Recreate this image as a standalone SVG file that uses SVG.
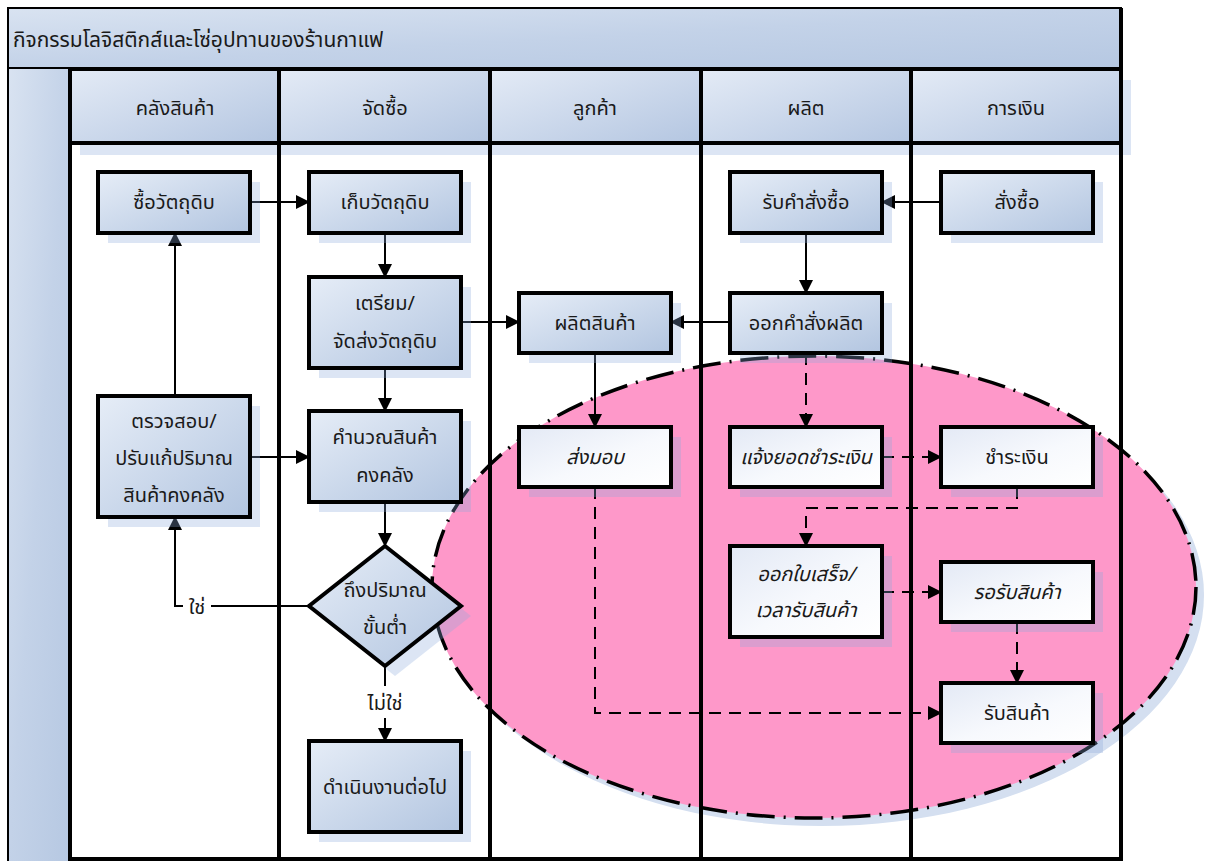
<svg xmlns="http://www.w3.org/2000/svg" width="1208" height="861" viewBox="0 0 1208 861">
<defs>
<linearGradient id="gb" x1="0" y1="0" x2="1" y2="1"><stop offset="0" stop-color="#e6edf7"/><stop offset="1" stop-color="#b2c5e0"/></linearGradient>
<linearGradient id="gw" x1="0" y1="0" x2="1" y2="1"><stop offset="0" stop-color="#e3e9f5"/><stop offset="0.55" stop-color="#f7f9fd"/><stop offset="1" stop-color="#ffffff"/></linearGradient>
<linearGradient id="gt" x1="0" y1="0" x2="1" y2="1"><stop offset="0" stop-color="#d9e3f1"/><stop offset="0.5" stop-color="#c3d2e8"/><stop offset="1" stop-color="#b6c8e2"/></linearGradient>
<linearGradient id="gh" x1="0" y1="0" x2="1" y2="1"><stop offset="0" stop-color="#e4ebf6"/><stop offset="1" stop-color="#b4c6e1"/></linearGradient>
<marker id="ar" markerUnits="userSpaceOnUse" markerWidth="14" markerHeight="14" viewBox="0 0 14 14" refX="13" refY="7" orient="auto"><path d="M0,0 L14,7 L0,14 z" fill="#000"/></marker>
<style>
.t{font-family:"Noto Sans Thai","Tahoma","Noto Sans","DejaVu Sans",sans-serif;font-size:20px;fill:#1a1a1a;text-anchor:middle}
.i{font-style:italic}
.sh{fill:#8caadc;fill-opacity:0.3}
.nb{fill:url(#gb);stroke:#000;stroke-width:4}
.nw{fill:url(#gw);stroke:#000;stroke-width:4}
.hd{fill:url(#gh);stroke:#000;stroke-width:4}
.ln{stroke:#000;stroke-width:4;fill:none}
.c{stroke:#000;stroke-width:2;fill:none;marker-end:url(#ar)}
.d{stroke-dasharray:12 8}
</style>
</defs>
<rect width="1208" height="861" fill="#fff"/>
<g id="pool">
<rect x="8" y="8" width="1113" height="60" fill="url(#gt)" stroke="#000" stroke-width="2"/>
<text class="t" x="13" y="47" style="text-anchor:start;font-size:21px">กิจกรรมโลจิสติกส์และโซ่อุปทานของร้านกาแฟ</text>
<rect x="8" y="68" width="62" height="800" fill="url(#gt)" stroke="#000" stroke-width="2"/>
</g>
<g id="headers">
<rect class="sh" x="80" y="80" width="1051" height="75"/>
<rect class="hd" x="70" y="69" width="209" height="74"/>
<rect class="hd" x="279" y="69" width="211" height="74"/>
<rect class="hd" x="490" y="69" width="211" height="74"/>
<rect class="hd" x="701" y="69" width="210" height="74"/>
<rect class="hd" x="911" y="69" width="210" height="74"/>
<text class="t" x="175" y="115">คลังสินค้า</text>
<text class="t" x="385" y="115">จัดซื้อ</text>
<text class="t" x="595" y="115">ลูกค้า</text>
<text class="t" x="806" y="115">ผลิต</text>
<text class="t" x="1016" y="115">การเงิน</text>
</g>
<g id="region">
<ellipse cx="822" cy="595" rx="382" ry="231" fill="#d4dff0"/>
<ellipse cx="814" cy="587" rx="382" ry="231" fill="#fe98c9" stroke="#000" stroke-width="3.5" stroke-dasharray="28 9 2 9"/>
</g>
<g id="lanes">
<line class="ln" x1="70" y1="143" x2="70" y2="861"/>
<line class="ln" x1="279" y1="143" x2="279" y2="861"/>
<line class="ln" x1="490" y1="143" x2="490" y2="861"/>
<line class="ln" x1="701" y1="143" x2="701" y2="861"/>
<line class="ln" x1="911" y1="143" x2="911" y2="861"/>
<line class="ln" x1="1121" y1="8" x2="1121" y2="861"/>
<line class="ln" x1="70" y1="859" x2="1121" y2="859"/>
</g>
<g id="connectors">
<line class="c" x1="250" y1="202" x2="309" y2="202"/>
<line class="c" x1="385" y1="233" x2="385" y2="277"/>
<line class="c" x1="461" y1="322" x2="519" y2="322"/>
<line class="c" x1="385" y1="368" x2="385" y2="411"/>
<line class="c" x1="175" y1="396" x2="175" y2="233"/>
<line class="c" x1="250" y1="457" x2="309" y2="457"/>
<line class="c" x1="385" y1="502" x2="385" y2="546"/>
<polyline class="c" points="309,606 175,606 175,517"/>
<line class="c" x1="385" y1="666" x2="385" y2="741"/>
<line class="c" x1="941" y1="202" x2="882" y2="202"/>
<line class="c" x1="806" y1="233" x2="806" y2="293"/>
<line class="c" x1="730" y1="322" x2="671" y2="322"/>
<line class="c" x1="595" y1="353" x2="595" y2="427"/>
<line class="c d" x1="806" y1="353" x2="806" y2="427"/>
<line class="c d" x1="882" y1="457" x2="941" y2="457"/>
<polyline class="c d" points="1017,487 1017,508 806,508 806,546"/>
<line class="c d" x1="882" y1="592" x2="941" y2="592"/>
<line class="c d" x1="1017" y1="622" x2="1017" y2="683"/>
<polyline class="c d" points="595,487 595,713 941,713"/>
<rect x="183" y="590" width="28" height="30" fill="#fff"/>
<text class="t" x="197" y="614">ใช่</text>
<rect x="358" y="686" width="54" height="32" fill="#fff"/>
<text class="t" x="385" y="710">ไม่ใช่</text>
</g>
<g id="n1"><rect class="sh" x="108" y="182" width="152" height="61"/><rect class="nb" x="98" y="172" width="152" height="61"/><text class="t" x="174" y="209">ซื้อวัตถุดิบ</text></g>
<g id="n2"><rect class="sh" x="319" y="182" width="152" height="61"/><rect class="nb" x="309" y="172" width="152" height="61"/><text class="t" x="385" y="209">เก็บวัตถุดิบ</text></g>
<g id="n3"><rect class="sh" x="319" y="287" width="152" height="91"/><rect class="nb" x="309" y="277" width="152" height="91"/><text class="t" x="385" y="310">เตรียม/</text><text class="t" x="385" y="348">จัดส่งวัตถุดิบ</text></g>
<g id="n4"><rect class="sh" x="319" y="421" width="152" height="91"/><rect class="nb" x="309" y="411" width="152" height="91"/><text class="t" x="385" y="444">คำนวณสินค้า</text><text class="t" x="385" y="482">คงคลัง</text></g>
<g id="n5"><path class="sh" d="M395,556 L471,616 L395,676 L319,616 z"/><path class="nb" d="M385,546 L461,606 L385,666 L309,606 z"/><text class="t" x="385" y="597">ถึงปริมาณ</text><text class="t" x="385" y="634">ขั้นต่ำ</text></g>
<g id="n6"><rect class="sh" x="319" y="751" width="152" height="91"/><rect class="nb" x="309" y="741" width="152" height="91"/><text class="t" x="385" y="794">ดำเนินงานต่อไป</text></g>
<g id="n7"><rect class="sh" x="108" y="406" width="152" height="121"/><rect class="nb" x="98" y="396" width="152" height="121"/><text class="t" x="174" y="428">ตรวจสอบ/</text><text class="t" x="174" y="465">ปรับแก้ปริมาณ</text><text class="t" x="174" y="502">สินค้าคงคลัง</text></g>
<g id="n8"><rect class="sh" x="529" y="303" width="152" height="60"/><rect class="nb" x="519" y="293" width="152" height="60"/><text class="t" x="595" y="330">ผลิตสินค้า</text></g>
<g id="n9"><rect class="sh" x="529" y="437" width="152" height="60"/><rect class="nw" x="519" y="427" width="152" height="60"/><text class="t i" x="595" y="464">ส่งมอบ</text></g>
<g id="n10"><rect class="sh" x="740" y="182" width="152" height="61"/><rect class="nb" x="730" y="172" width="152" height="61"/><text class="t" x="806" y="209">รับคำสั่งซื้อ</text></g>
<g id="n11"><rect class="sh" x="740" y="303" width="152" height="60"/><rect class="nb" x="730" y="293" width="152" height="60"/><text class="t" x="806" y="330">ออกคำสั่งผลิต</text></g>
<g id="n12"><rect class="sh" x="740" y="437" width="152" height="60"/><rect class="nw" x="730" y="427" width="152" height="60"/><text class="t i" x="806" y="464">แจ้งยอดชำระเงิน</text></g>
<g id="n13"><rect class="sh" x="740" y="556" width="152" height="91"/><rect class="nw" x="730" y="546" width="152" height="91"/><text class="t i" x="806" y="581">ออกใบเสร็จ/</text><text class="t i" x="806" y="617">เวลารับสินค้า</text></g>
<g id="n14"><rect class="sh" x="951" y="182" width="152" height="61"/><rect class="nb" x="941" y="172" width="152" height="61"/><text class="t" x="1017" y="209">สั่งซื้อ</text></g>
<g id="n15"><rect class="sh" x="951" y="437" width="152" height="60"/><rect class="nw" x="941" y="427" width="152" height="60"/><text class="t" x="1017" y="464">ชำระเงิน</text></g>
<g id="n16"><rect class="sh" x="951" y="572" width="152" height="60"/><rect class="nw" x="941" y="562" width="152" height="60"/><text class="t i" x="1017" y="599">รอรับสินค้า</text></g>
<g id="n17"><rect class="sh" x="951" y="693" width="152" height="60"/><rect class="nw" x="941" y="683" width="152" height="60"/><text class="t" x="1017" y="720">รับสินค้า</text></g>
</svg>
